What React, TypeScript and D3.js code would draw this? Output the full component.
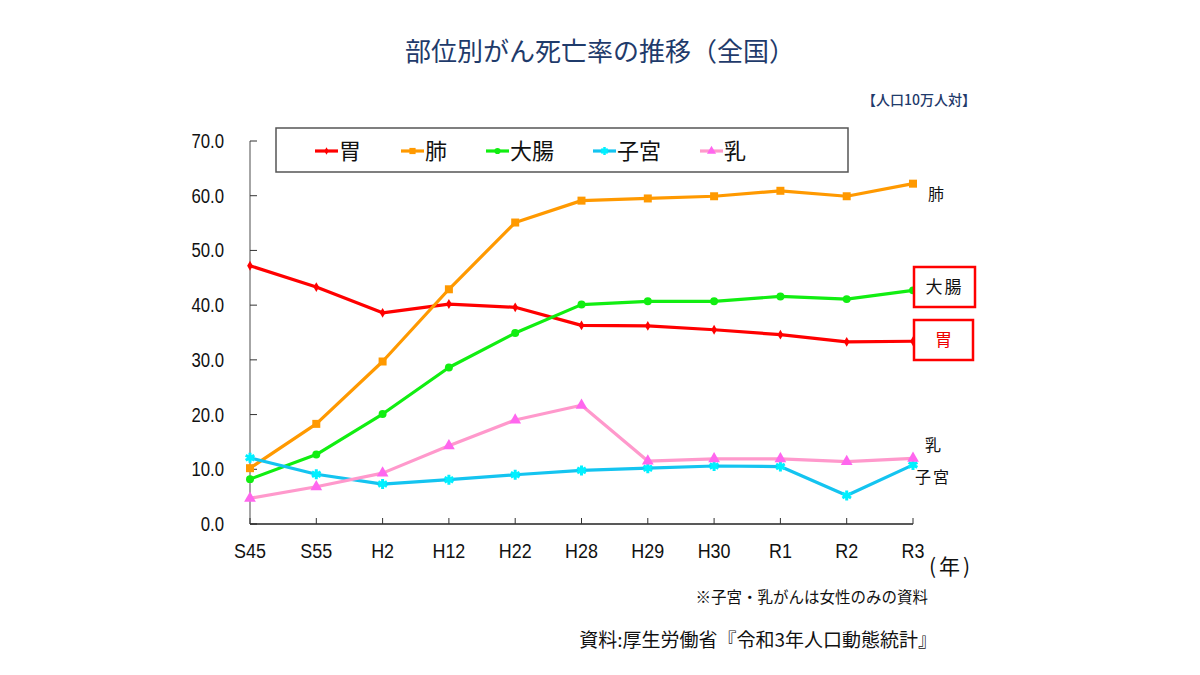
import React from 'react';
import * as d3 from 'd3';

const categories = ['S45', 'S55', 'H2', 'H12', 'H22', 'H28', 'H29', 'H30', 'R1', 'R2', 'R3'];
const stomach = [47.2, 43.3, 38.6, 40.2, 39.6, 36.3, 36.2, 35.5, 34.6, 33.3, 33.4];
const lung = [10.2, 18.3, 29.7, 42.9, 55.1, 59.1, 59.5, 59.9, 60.9, 59.9, 62.2];
const colon = [8.2, 12.7, 20.1, 28.6, 34.9, 40.1, 40.7, 40.7, 41.6, 41.1, 42.7];
const uterus = [12.1, 9.1, 7.3, 8.1, 9.0, 9.8, 10.2, 10.6, 10.5, 5.2, 10.8];
const breast = [4.7, 6.8, 9.3, 14.3, 19.0, 21.7, 11.5, 11.9, 11.9, 11.4, 12.0];
const yTicks = [0, 10, 20, 30, 40, 50, 60, 70];
const seriesNames = ['胃', '肺', '大腸', '子宮', '乳'];

const TITLE = '部位別がん死亡率の推移（全国）';
const UNIT = '【人口10万人対】';
const NOTE = '※子宮・乳がんは女性のみの資料';
const SOURCE = '資料:厚生労働省『令和3年人口動態統計』';
const YEAR = '(年)';

const JP = "'Noto Sans CJK JP', 'Noto Sans', sans-serif";
const NUM = "'Liberation Sans', Arial, sans-serif";

type Series = {
  name: string;
  values: number[];
  line: string;
  marker: string;
  symbol: d3.SymbolType;
  size: number;
  strokeSym?: boolean;
};

const series: Series[] = [
  { name: seriesNames[0], values: stomach, line: '#ff0000', marker: '#ff0000', symbol: d3.symbolDiamond, size: 28 },
  { name: seriesNames[1], values: lung, line: '#ff9900', marker: '#ff9900', symbol: d3.symbolSquare, size: 64 },
  { name: seriesNames[2], values: colon, line: '#11ee11', marker: '#11ee11', symbol: d3.symbolCircle, size: 50 },
  { name: seriesNames[3], values: uterus, line: '#14c4f0', marker: '#00f0ff', symbol: d3.symbolAsterisk, size: 70, strokeSym: true },
  { name: seriesNames[4], values: breast, line: '#ff99cc', marker: '#ff66ee', symbol: d3.symbolTriangle, size: 60 },
];

export default function App() {
  const x = d3.scalePoint<string>().domain(categories).range([250, 913]);
  const y = d3.scaleLinear().domain([0, 70]).range([524, 141]);
  const line = d3
    .line<number>()
    .x((_, i) => x(categories[i]) as number)
    .y((d) => y(d));

  const legendX = [315, 401, 486, 593, 700];

  const sym = (s: Series, size = s.size) => d3.symbol().type(s.symbol).size(size)() as string;

  return (
    <svg width={1200} height={675} style={{ position: 'absolute', left: 0, top: 0, background: '#fff' }}>
      <rect x={0} y={0} width={1200} height={675} fill="#fff" />
      <text x={600} y={61} textAnchor="middle" fontFamily={JP} fontSize={26} fill="#1f3b6b">
        {TITLE}
      </text>
      <text x={976} y={105} textAnchor="end" fontFamily={JP} fontSize={14} fontWeight={500} fill="#1f3b6b">
        {UNIT}
      </text>

      {/* axes */}
      <line x1={250} x2={250} y1={y(70)} y2={y(0)} stroke="#888" strokeWidth={1.5} />
      {yTicks.map((t) => (
        <g key={t}>
          <line x1={250} x2={257} y1={y(t)} y2={y(t)} stroke="#333" strokeWidth={1} />
          <text
            transform={`translate(224,${y(t) + 7}) scale(0.86,1)`}
            textAnchor="end"
            fontFamily={NUM}
            fontSize={19.5}
            fill="#111"
          >
            {t.toFixed(1)}
          </text>
        </g>
      ))}
      <line x1={250} x2={913} y1={y(0)} y2={y(0)} stroke="#222" strokeWidth={1.5} />
      {categories.map((c) => (
        <g key={c}>
          <line x1={x(c)} x2={x(c)} y1={y(0)} y2={y(0) - 6} stroke="#333" strokeWidth={1} />
          <text
            transform={`translate(${x(c)},558) scale(0.92,1)`}
            textAnchor="middle"
            fontFamily={NUM}
            fontSize={19.5}
            fill="#111"
          >
            {c}
          </text>
        </g>
      ))}
      <text x={929} y={574} fontFamily={JP} fontSize={21} fill="#111" letterSpacing={3}>
        {YEAR}
      </text>

      {/* series */}
      {series.map((s) => (
        <g key={s.name}>
          <path d={line(s.values) as string} fill="none" stroke={s.line} strokeWidth={3.2} strokeLinejoin="round" />
          {s.values.map((v, i) => (
            <path
              key={i}
              d={sym(s)}
              transform={`translate(${x(categories[i])},${y(v)})`}
              fill={s.strokeSym ? 'none' : s.marker}
              stroke={s.strokeSym ? s.marker : 'none'}
              strokeWidth={s.strokeSym ? 3 : 0}
            />
          ))}
        </g>
      ))}

      {/* legend */}
      <rect x={276} y={128} width={572} height={44} fill="#fff" stroke="#555" strokeWidth={1.5} />
      {series.map((s, i) => (
        <g key={s.name} transform={`translate(${legendX[i]},151)`}>
          <line x1={0} x2={23} y1={0} y2={0} stroke={s.line} strokeWidth={3.2} />
          <path
            d={sym(s, s.size * 0.6)}
            transform="translate(11.5,0)"
            fill={s.strokeSym ? 'none' : s.marker}
            stroke={s.strokeSym ? s.marker : 'none'}
            strokeWidth={s.strokeSym ? 2.5 : 0}
          />
          <text x={24} y={8} fontFamily={JP} fontSize={22} fill="#111">
            {s.name}
          </text>
        </g>
      ))}

      {/* right labels */}
      <text x={928} y={200} fontFamily={JP} fontSize={16} fill="#111">
        {seriesNames[1]}
      </text>
      <rect x={914} y={267} width={61} height={40} fill="#fff" stroke="#ff0000" strokeWidth={2.5} />
      <text x={944.5} y={293} textAnchor="middle" fontFamily={JP} fontSize={17} fill="#111" letterSpacing={2}>
        {seriesNames[2]}
      </text>
      <rect x={914} y={320} width={59} height={40} fill="#fff" stroke="#ff0000" strokeWidth={2.5} />
      <text x={943.5} y={346} textAnchor="middle" fontFamily={JP} fontSize={17} fill="#ee0000">
        {seriesNames[0]}
      </text>
      <text x={925} y={451} fontFamily={JP} fontSize={16} fill="#111">
        {seriesNames[4]}
      </text>
      <text x={915} y={483} fontFamily={JP} fontSize={16} fill="#111" letterSpacing={2}>
        {seriesNames[3]}
      </text>

      {/* notes */}
      <text x={928} y={603} textAnchor="end" fontFamily={JP} fontSize={15.5} fill="#111">
        {NOTE}
      </text>
      <text x={937} y={647} textAnchor="end" fontFamily={JP} fontSize={19} fill="#111">
        {SOURCE}
      </text>
    </svg>
  );
}
